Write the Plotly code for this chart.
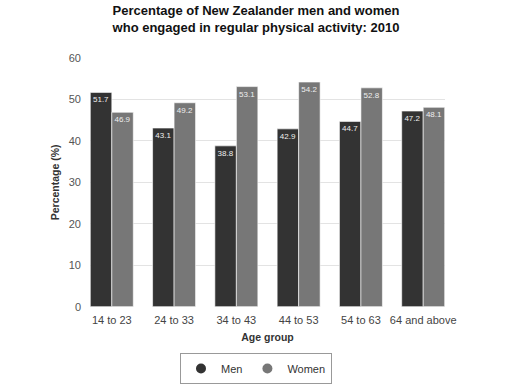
import plotly.graph_objects as go

categories = ["14 to 23", "24 to 33", "34 to 43", "44 to 53", "54 to 63", "64 and above"]
men = [51.7, 43.1, 38.8, 42.9, 44.7, 47.2]
women = [46.9, 49.2, 53.1, 54.2, 52.8, 48.1]
y_ticks = [0, 10, 20, 30, 40, 50, 60]

men_color = "#333333"
women_color = "#777777"
font_family = "Liberation Sans, Arial, sans-serif"

fig = go.Figure()
for name, vals, col in [("Men", men, men_color), ("Women", women, women_color)]:
    fig.add_trace(go.Bar(
        x=categories, y=vals, name=name,
        marker=dict(color=col, line=dict(color="white", width=0.6)),
        text=[f"{v:.1f}" for v in vals],
        textposition="inside", insidetextanchor="end", textangle=0,
        textfont=dict(size=8, color="#eeeeee", family=font_family),
        constraintext="none",
        showlegend=False, hoverinfo="skip",
    ))
    fig.add_trace(go.Scatter(
        x=[None], y=[None], mode="markers", name=name,
        marker=dict(symbol="circle", size=10, color=col),
    ))

fig.update_layout(
    width=512, height=384,
    margin=dict(l=90, r=67, t=58, b=74),
    paper_bgcolor="white", plot_bgcolor="white",
    font=dict(family=font_family, color="#333333"),
    title=dict(
        text="<b>Percentage of New Zealander men and women<br>who engaged in regular physical activity: 2010</b>",
        x=0.5, xanchor="center", xref="container",
        yref="container", y=1 - 15 / 384, yanchor="top",
        font=dict(size=13, color="#111111"),
    ),
    barmode="group", bargap=0.31, bargroupgap=0.0,
    xaxis=dict(
        range=[-0.35, 5.35], showgrid=False, showline=False, ticks="",
        tickfont=dict(size=11, color="#444444"), ticklabelstandoff=5,
        title=dict(text="<b>Age group</b>", font=dict(size=10.5, color="#333333"), standoff=8),
    ),
    yaxis=dict(
        range=[0, 60], tickvals=y_ticks, showgrid=True, gridcolor="#e3e3e3",
        zeroline=False, showline=False, ticks="",
        tickfont=dict(size=11, color="#555555"), ticklabelstandoff=8,
        title=dict(text="<b>Percentage (%)</b>", font=dict(size=10.5, color="#333333"), standoff=7),
    ),
    legend=dict(
        orientation="h", xref="container", yref="container",
        x=0.5, xanchor="center", y=1 - 368.5 / 384, yanchor="middle",
        bordercolor="#999999", borderwidth=1,
        font=dict(size=11, color="#333333"),
        itemwidth=30, tracegroupgap=0,
    ),
)

fig.write_html("out.html", config={"displayModeBar": False},
               post_script="document.body.style.margin='0';")
